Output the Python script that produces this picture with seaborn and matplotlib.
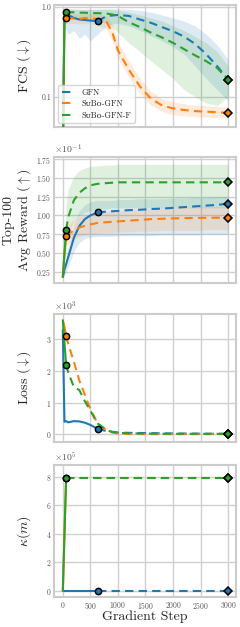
import matplotlib
matplotlib.use("Agg")
import matplotlib.pyplot as plt
import seaborn as sns
import numpy as np
from matplotlib.ticker import ScalarFormatter, FixedLocator, MultipleLocator, NullLocator

steps = np.array([0, 30, 60, 100, 200, 300, 400, 500, 630, 800, 900, 1000,
                  1200, 1400, 1600, 1800, 2000, 2200, 2400, 2600, 2800, 3000])

methods = ["GFN", "S\u1d1cB\u1d0f-GFN", "S\u1d1cB\u1d0f-GFN-F"]
switch_step = [630, 60, 60]   # solid up to here, dashed afterwards

# FCS (log scale)
fcs_gfn = [0.02, 0.90, 0.88, 0.82, 0.76, 0.73, 0.72, 0.71, 0.70, 0.80, 0.81, 0.82,
           0.80, 0.73, 0.67, 0.60, 0.54, 0.47, 0.39, 0.30, 0.22, 0.155]
fcs_subo = [0.02, 0.74, 0.75, 0.76, 0.75, 0.74, 0.76, 0.75, 0.74, 0.68, 0.52, 0.33,
            0.20, 0.13, 0.095, 0.080, 0.074, 0.071, 0.069, 0.068, 0.067, 0.066]
fcs_subof = [0.02, 0.86, 0.88, 0.88, 0.88, 0.87, 0.87, 0.86, 0.86, 0.85, 0.83, 0.80,
             0.68, 0.60, 0.52, 0.46, 0.40, 0.34, 0.29, 0.25, 0.21, 0.155]
fcs_gfn_lo = [0.02, 0.60, 0.55, 0.50, 0.55, 0.45, 0.50, 0.42, 0.50, 0.62, 0.65, 0.66,
              0.62, 0.55, 0.48, 0.42, 0.36, 0.30, 0.22, 0.16, 0.12, 0.09]
fcs_gfn_hi = [0.02, 0.98, 0.97, 0.96, 0.95, 0.95, 0.95, 0.95, 0.95, 0.96, 0.96, 0.96,
              0.95, 0.92, 0.88, 0.82, 0.76, 0.70, 0.62, 0.50, 0.38, 0.26]
fcs_subo_lo = [0.02, 0.64, 0.66, 0.66, 0.66, 0.65, 0.66, 0.65, 0.64, 0.56, 0.42, 0.27,
               0.165, 0.108, 0.080, 0.068, 0.063, 0.061, 0.060, 0.059, 0.058, 0.058]
fcs_subo_hi = [0.02, 0.84, 0.85, 0.86, 0.85, 0.84, 0.86, 0.85, 0.84, 0.80, 0.64, 0.41,
               0.25, 0.16, 0.115, 0.095, 0.088, 0.083, 0.080, 0.079, 0.078, 0.077]
fcs_subof_lo = [0.02, 0.70, 0.72, 0.74, 0.75, 0.74, 0.73, 0.72, 0.70, 0.66, 0.60, 0.52,
                0.40, 0.32, 0.25, 0.20, 0.16, 0.12, 0.10, 0.085, 0.08, 0.10]
fcs_subof_hi = [0.02, 0.96, 0.96, 0.96, 0.96, 0.95, 0.95, 0.95, 0.95, 0.95, 0.94, 0.93,
                0.88, 0.82, 0.76, 0.70, 0.62, 0.55, 0.47, 0.40, 0.32, 0.22]

# Top-100 average reward
rew_gfn = [0.018, 0.028, 0.035, 0.045, 0.070, 0.086, 0.095, 0.100, 0.104, 0.105, 0.1055,
           0.106, 0.107, 0.1075, 0.1085, 0.109, 0.110, 0.111, 0.112, 0.113, 0.114, 0.1155]
rew_subo = [0.018, 0.050, 0.072, 0.075, 0.080, 0.084, 0.086, 0.088, 0.090, 0.091, 0.0915,
            0.092, 0.093, 0.094, 0.095, 0.0955, 0.096, 0.0963, 0.0966, 0.0968, 0.0969, 0.097]
rew_subof = [0.018, 0.050, 0.081, 0.098, 0.120, 0.130, 0.136, 0.140, 0.142, 0.143, 0.1435,
             0.144, 0.144, 0.144, 0.144, 0.144, 0.144, 0.144, 0.144, 0.144, 0.144, 0.144]
rew_gfn_lo = [0.018, 0.020, 0.025, 0.032, 0.052, 0.064, 0.069, 0.071, 0.072, 0.072, 0.072,
              0.073, 0.073, 0.073, 0.073, 0.074, 0.074, 0.074, 0.074, 0.075, 0.075, 0.075]
rew_gfn_hi = [0.018, 0.036, 0.045, 0.058, 0.088, 0.106, 0.114, 0.118, 0.120, 0.120, 0.120,
              0.121, 0.121, 0.122, 0.122, 0.122, 0.123, 0.123, 0.124, 0.124, 0.125, 0.125]
rew_subo_lo = [0.018, 0.040, 0.058, 0.062, 0.068, 0.072, 0.074, 0.075, 0.076, 0.077, 0.077,
               0.078, 0.078, 0.079, 0.079, 0.080, 0.080, 0.080, 0.080, 0.081, 0.081, 0.081]
rew_subo_hi = [0.018, 0.060, 0.085, 0.088, 0.094, 0.098, 0.100, 0.102, 0.104, 0.105, 0.105,
               0.106, 0.107, 0.108, 0.109, 0.110, 0.110, 0.111, 0.111, 0.112, 0.112, 0.112]
rew_subof_lo = [0.018, 0.035, 0.060, 0.075, 0.092, 0.100, 0.104, 0.106, 0.108, 0.109, 0.110,
                0.110, 0.110, 0.110, 0.110, 0.110, 0.110, 0.110, 0.110, 0.110, 0.110, 0.110]
rew_subof_hi = [0.018, 0.070, 0.115, 0.135, 0.152, 0.160, 0.163, 0.165, 0.166, 0.167, 0.167,
                0.168, 0.168, 0.168, 0.168, 0.168, 0.168, 0.168, 0.168, 0.168, 0.168, 0.168]

# Loss
loss_gfn = [3300, 400, 420, 380, 420, 410, 370, 300, 180, 100, 80, 60,
            50, 45, 40, 35, 30, 28, 25, 22, 20, 20]
loss_subo = [3600, 3400, 3100, 2850, 2300, 1700, 1250, 800, 350, 120, 60, 30,
             15, 12, 10, 10, 10, 10, 10, 10, 10, 10]
loss_subof = [3600, 2900, 2200, 1950, 1500, 1400, 1050, 750, 350, 130, 80, 50,
              35, 30, 25, 22, 20, 20, 20, 20, 20, 20]

# kappa(m)
kap_gfn = [0] * len(steps)
kap_subo = [0, 4.0e5] + [7.9e5] * (len(steps) - 2)
kap_subof = [0, 4.0e5] + [7.9e5] * (len(steps) - 2)

sns.set_style("whitegrid")
plt.rcParams["font.family"] = ["cmr10", "DejaVu Serif", "DejaVu Sans"]
plt.rcParams["mathtext.fontset"] = "cm"
plt.rcParams["axes.formatter.use_mathtext"] = True
plt.rcParams["axes.unicode_minus"] = False

colors = sns.color_palette("tab10")[:3]

fig = plt.figure(figsize=(2.4, 6.27), dpi=100)
boxes = [(0.225, 0.7974, 0.76, 0.1946),
         (0.225, 0.5486, 0.76, 0.2010),
         (0.225, 0.2950, 0.76, 0.2041),
         (0.225, 0.0478, 0.76, 0.2105)]
axes = [fig.add_axes(b) for b in boxes]


def draw_series(ax, y, c, sw, lo=None, hi=None):
    y = np.asarray(y, dtype=float)
    if lo is not None:
        ax.fill_between(steps, lo, hi, color=c, alpha=0.15, linewidth=0)
    i = int(np.where(steps == sw)[0][0])
    sns.lineplot(x=steps[:i + 1], y=y[:i + 1], ax=ax, color=c, lw=1.5, zorder=3)
    sns.lineplot(x=steps[i:], y=y[i:], ax=ax, color=c, lw=1.5, ls=(0, (4, 2.5)), zorder=3)
    ax.plot(steps[i], y[i], "o", ms=4.5, mfc=c, mec="black", mew=1.1, zorder=5)
    ax.plot(steps[-1], y[-1], "D", ms=4.2, mfc=c, mec="black", mew=1.1, zorder=5)


fcs = [(fcs_gfn, fcs_gfn_lo, fcs_gfn_hi), (fcs_subo, fcs_subo_lo, fcs_subo_hi),
       (fcs_subof, fcs_subof_lo, fcs_subof_hi)]
rew = [(rew_gfn, rew_gfn_lo, rew_gfn_hi), (rew_subo, rew_subo_lo, rew_subo_hi),
       (rew_subof, rew_subof_lo, rew_subof_hi)]
loss = [loss_gfn, loss_subo, loss_subof]
kap = [kap_gfn, kap_subo, kap_subof]

for k in range(3):
    draw_series(axes[0], fcs[k][0], colors[k], switch_step[k], fcs[k][1], fcs[k][2])
    draw_series(axes[1], rew[k][0], colors[k], switch_step[k], rew[k][1], rew[k][2])
    draw_series(axes[2], loss[k], colors[k], switch_step[k])
    draw_series(axes[3], kap[k], colors[k], switch_step[k])

# panel 1
ax = axes[0]
ax.set_yscale("log")
ax.set_ylim(0.0458, 1.06)
ax.yaxis.set_major_locator(FixedLocator([0.1, 1.0]))
ax.yaxis.set_minor_locator(NullLocator())
ax.set_yticklabels(["0.1", "1.0"])
ax.set_ylabel(r"FCS ($\downarrow$)", fontsize=10)
handles = [plt.Line2D([], [], color=c, lw=1.5, ls=(0, (4, 2.5))) for c in colors]
leg = ax.legend(handles, methods, loc="lower left", fontsize=6, frameon=True,
                handlelength=1.6, borderpad=0.4, labelspacing=0.35)
leg.get_frame().set_edgecolor("#cccccc")

# panel 2
ax = axes[1]
ax.set_ylim(0.0100, 0.1777)
ax.yaxis.set_major_locator(MultipleLocator(0.025))
ax.set_ylabel("Top-100\n" + r"Avg Reward ($\uparrow$)", fontsize=10, linespacing=1.05)

# panel 3
ax = axes[2]
ax.set_ylim(-240, 3800)
ax.yaxis.set_major_locator(MultipleLocator(1000))
ax.set_ylabel(r"Loss ($\downarrow$)", fontsize=10)

# panel 4
ax = axes[3]
ax.set_ylim(-0.44e5, 8.82e5)
ax.yaxis.set_major_locator(MultipleLocator(2e5))
ax.set_ylabel(r"$\kappa(m)$", fontsize=10)

for i, ax in enumerate(axes):
    ax.set_xlim(-160, 3150)
    ax.xaxis.set_major_locator(MultipleLocator(500))
    if i > 0:
        fmt = ScalarFormatter(useMathText=True)
        fmt.set_powerlimits((0, 0))
        ax.yaxis.set_major_formatter(fmt)
        ax.yaxis.get_offset_text().set_fontsize(7)
        ax.yaxis.get_offset_text().set_color("#555555")
    if i < 3:
        ax.set_xticklabels([])
        ax.set_xlabel("")
    ax.tick_params(labelsize=5.5, colors="#555555", pad=2, length=0)
    ax.grid(True, color="#d0d0d0", lw=1.0)
    ax.yaxis.set_label_coords(-0.115, 0.5)
    for s in ax.spines.values():
        s.set_color("#cccccc")
        s.set_linewidth(1.5)

axes[3].set_xlabel("Gradient Step", fontsize=10, labelpad=0)
fig.savefig("out.png", dpi=100)
